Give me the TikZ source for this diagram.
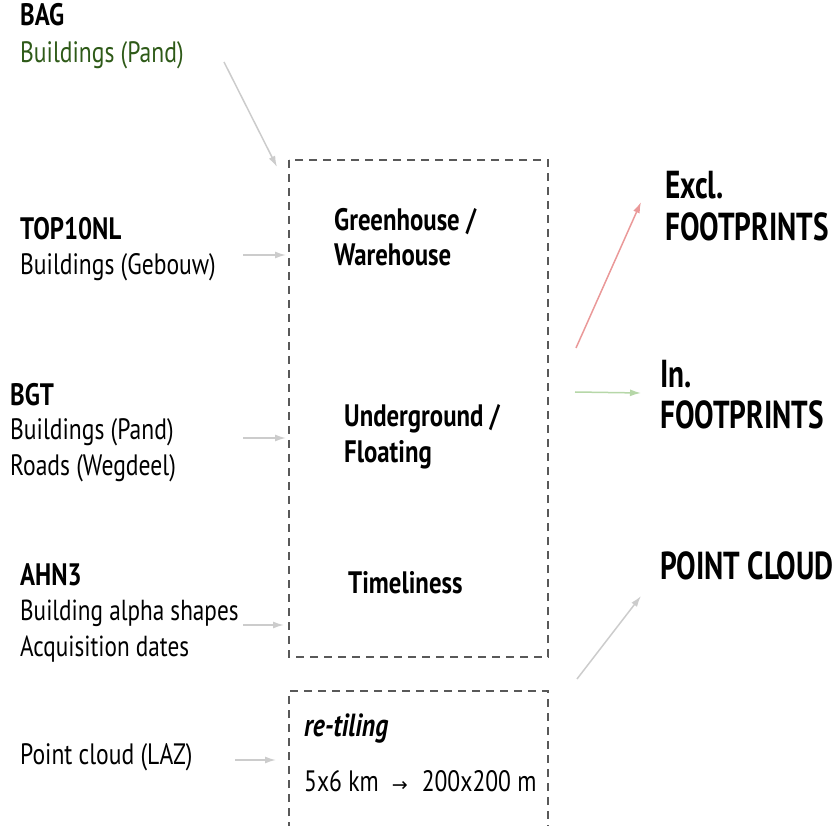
\documentclass[tikz,border=0pt]{standalone}
\usepackage{fontspec}
\setmainfont[FakeStretch=0.8]{PT Sans}
\newfontfamily\bigf[FakeStretch=0.75]{PT Sans}
\newfontfamily\symf{DejaVu Sans}
\usetikzlibrary{arrows.meta}
\definecolor{darkgreen}{HTML}{2E5A18}
\definecolor{lightred}{HTML}{EA9999}
\definecolor{lightgreen}{HTML}{B6D7A8}
\definecolor{lightgray}{HTML}{CCCCCC}
\definecolor{boxgray}{HTML}{595959}
\tikzset{
  lbl/.style={anchor=base west, inner sep=0pt, font=\fontsize{29.5}{34}\selectfont},
  hdr/.style={anchor=base west, inner sep=0pt, font=\fontsize{31}{34}\selectfont\bfseries},
  mid/.style={anchor=base west, inner sep=0pt, font=\fontsize{31}{34}\selectfont\bfseries},
  big/.style={anchor=base west, inner sep=0pt, font=\bigf\fontsize{39}{44}\selectfont\bfseries},
  arr/.style={draw=lightgray, line width=1.5pt, -{Latex[length=11pt,width=7pt]}},
  dbox/.style={draw=boxgray, line width=1.4pt, dash pattern=on 8pt off 6pt},
}
\begin{document}
\begin{tikzpicture}[x=1pt,y=-1pt]
\useasboundingbox (0,0) rectangle (839,826);
% left labels
\node[hdr] (bag) at (20,26) {BAG};
\node[lbl, text=darkgreen] (bagb) at (20,63) {Buildings (Pand)};
\node[hdr] (top) at (20,240) {TOP10NL};
\node[lbl] (topb) at (20,275) {Buildings (Gebouw)};
\node[hdr] (bgt) at (10,406) {BGT};
\node[lbl] (bgtb) at (10,440) {Buildings (Pand)};
\node[lbl] (bgtr) at (10,476) {Roads (Wegdeel)};
\node[hdr] (ahn) at (20,585) {AHN3};
\node[lbl, font=\fontsize{29}{34}\selectfont] (ahnb) at (20,620) {Building alpha shapes};
\node[lbl, font=\fontsize{29}{34}\selectfont] (ahna) at (20,656) {Acquisition dates};
\node[lbl] (pc) at (20,764) {Point cloud (LAZ)};
% main box
\draw[dbox] (289,160) rectangle (548,657);
\node[inner sep=0pt, minimum width=259pt, minimum height=497pt] (mainbox) at (418.5,408.5) {};
\node[mid] (gh1) at (334,231) {Greenhouse /};
\node[mid] (gh2) at (334,266) {Warehouse};
\node[mid] (ug1) at (344,427) {Underground /};
\node[mid] (ug2) at (344,463) {Floating};
\node[mid] (tl) at (348,593) {Timeliness};
% bottom box (open at bottom)
\draw[dbox] (289,830) -- (289,691) -- (548,691) -- (548,830);
\node[anchor=base west, inner sep=0pt, font=\fontsize{32}{36}\selectfont\bfseries\itshape] (rt) at (304,736) {re-tiling};
\node[lbl, font=\fontsize{29.5}{34}\selectfont] (tiles) at (304,791) {5x6 km\hspace{13pt}{\symf\fontsize{19}{20}\selectfont→}\hspace{14pt}200x200 m};
% right labels
\node[big] (ex1) at (665,199) {Excl.};
\node[big] (ex2) at (665,241) {FOOTPRINTS};
\node[big] (in1) at (660,388) {In.};
\node[big] (in2) at (660,429) {FOOTPRINTS};
\node[big] (pcl) at (660,579) {POINT CLOUD};
% arrow coordinates
\coordinate (a1s) at (224,62);  \coordinate (a1e) at (277,167);
\coordinate (a2s) at (243,255); \coordinate (a2e) at (286,255);
\coordinate (a3s) at (243,438); \coordinate (a3e) at (286,438);
\coordinate (a4s) at (243,625); \coordinate (a4e) at (284,625);
\coordinate (a5s) at (235,760); \coordinate (a5e) at (276,760);
\coordinate (r1s) at (576,348); \coordinate (r1e) at (641,202);
\coordinate (g1s) at (575,392); \coordinate (g1e) at (641,393);
\coordinate (p1s) at (577,679); \coordinate (p1e) at (641,596);
\draw[arr] (a1s) -- (a1e);
\draw[arr] (a2s) -- (a2e);
\draw[arr] (a3s) -- (a3e);
\draw[arr] (a4s) -- (a4e);
\draw[arr] (a5s) -- (a5e);
\draw[arr, draw=lightred] (r1s) -- (r1e);
\draw[arr, draw=lightgreen] (g1s) -- (g1e);
\draw[arr] (p1s) -- (p1e);
\end{tikzpicture}
\end{document}
